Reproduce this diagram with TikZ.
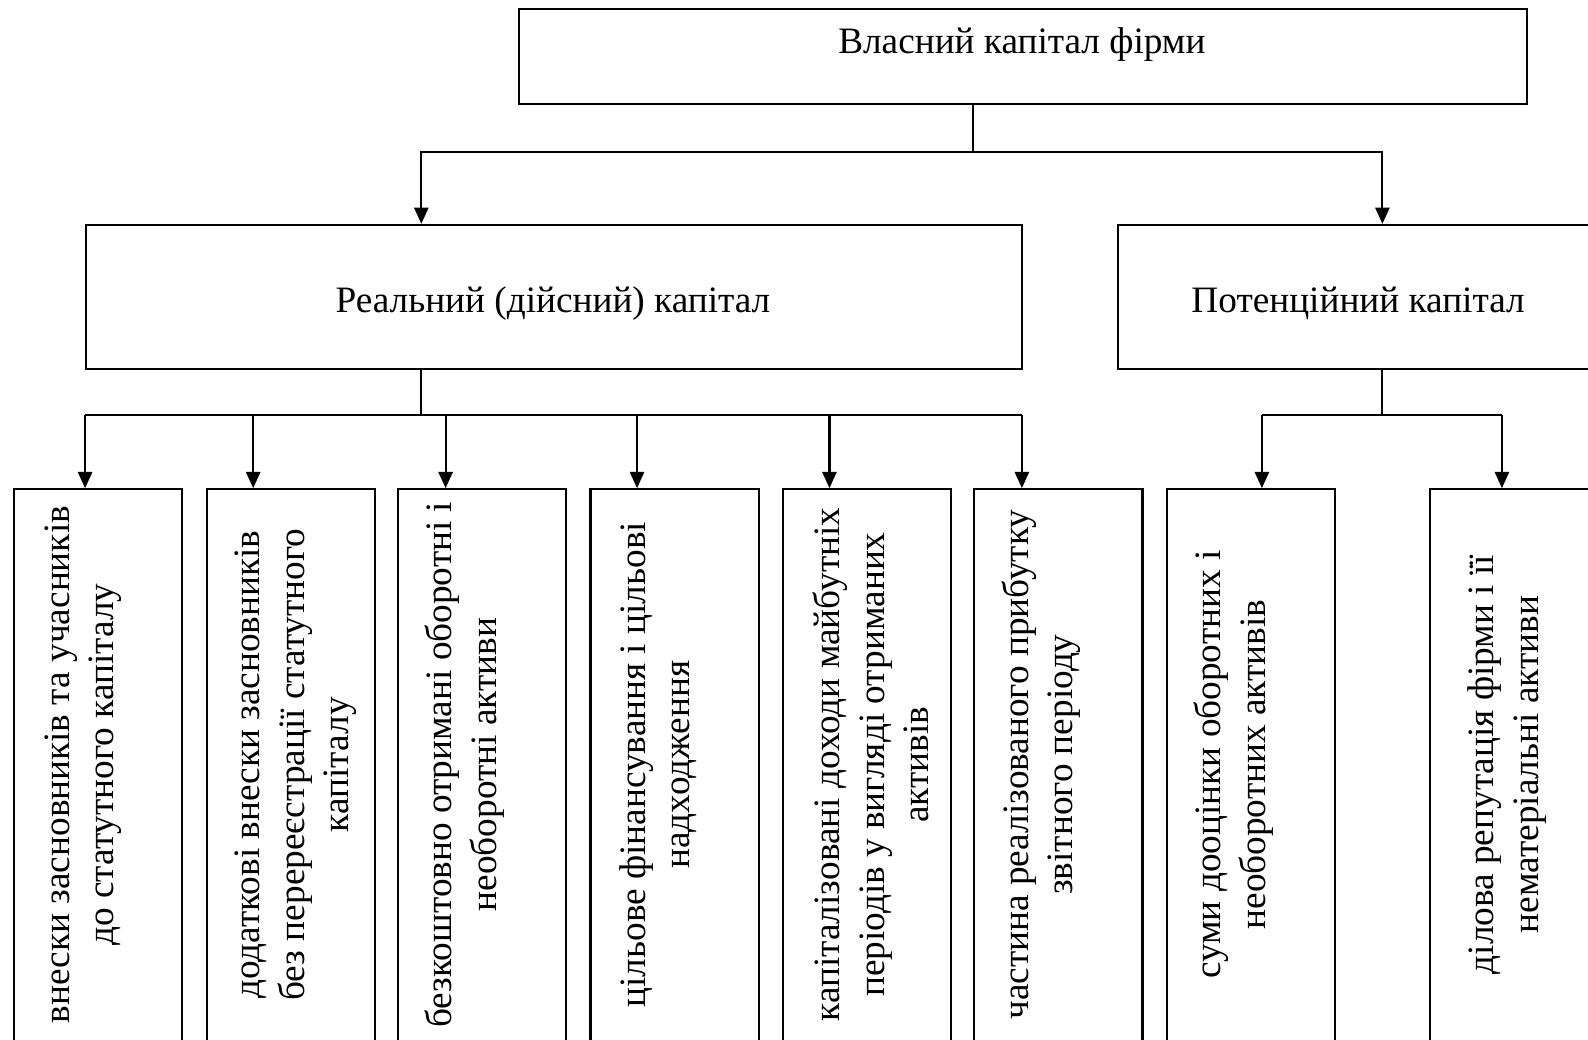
\documentclass[tikz,border=0pt]{standalone}
\usepackage{fontspec}
\setmainfont{Liberation Serif}
\usetikzlibrary{arrows.meta}
\begin{document}
\begin{tikzpicture}[x=0.5pt,y=-0.5pt,
  every node/.style={font=\fontsize{18.4pt}{22pt}\selectfont},
  box/.style={draw, line width=1.05pt, inner sep=0pt, anchor=north west},
  lbl/.style={inner sep=0pt, align=center},
  vlbl/.style={inner sep=0pt, align=center, rotate=90},
  conn/.style={line width=1.05pt},
  arr/.style={line width=1.05pt, -{Triangle[length=8pt,width=7pt]}}]
\useasboundingbox (0,0) rectangle (1568,1026);
\clip (0,0) rectangle (1568,1026);
% level 0
\node[box, minimum width=498pt, minimum height=47pt] (top) at (511,8) {};
\node[lbl] (toptext) at (1009,44) {Власний капітал фірми};
% level 1
\node[box, minimum width=462pt, minimum height=71pt] (real) at (84,221) {};
\node[lbl] (realtext) at (546,300) {Реальний (дійсний) капітал};
\node[box, minimum width=238pt, minimum height=71pt] (pot) at (1103,221) {};
\node[lbl] (pottext) at (1341,300) {Потенційний капітал};
% level 2 boxes
\node[box, minimum width=83pt, minimum height=273pt] (b1) at (13,482) {};
\node[box, minimum width=83pt, minimum height=273pt] (b2) at (203,482) {};
\node[box, minimum width=83pt, minimum height=273pt] (b3) at (392,482) {};
\node[box, minimum width=83pt, minimum height=273pt] (b4) at (582,482) {};
\node[box, minimum width=83pt, minimum height=273pt] (b5) at (772,482) {};
\node[box, minimum width=83pt, minimum height=273pt] (b6) at (961,482) {};
\node[box, minimum width=83pt, minimum height=273pt] (b7) at (1151,482) {};
\node[box, minimum width=83pt, minimum height=273pt] (b8) at (1411,482) {};
\node[vlbl] (t1) at (82,755) {внески засновників та учасників\\до статутного капіталу};
\node[vlbl] (t2) at (292,755) {додаткові внески засновників\\без перереєстрації статутного\\капіталу};
\node[vlbl] (t3) at (459,755) {безкоштовно отримані оборотні і\\необоротні активи};
\node[vlbl] (t4) at (650,755) {цільове фінансування і цільові\\надходження};
\node[vlbl] (t5) at (860,755) {капіталізовані доходи майбутніх\\періодів у вигляді отриманих\\активів};
\node[vlbl] (t6) at (1028,755) {частина реалізованого прибутку\\звітного періоду};
\node[vlbl] (t7) at (1218,755) {суми дооцінки оборотних і\\необоротних активів};
\node[vlbl] (t8) at (1488,755) {ділова репутація фірми і її\\нематеріальні активи};
% connectors level 0 -> 1
\coordinate (j0) at (961,150);
\coordinate (a1) at (416,150);
\coordinate (a2) at (1365,150);
\draw[conn] (top.south -| j0) -- (j0);
\draw[arr] (j0) -| (real.north -| a1);
\draw[arr] (j0) -| (pot.north -| a2);
% connectors real -> boxes
\coordinate (j1) at (416,410);
\coordinate (c1) at (84,410);
\coordinate (c2) at (250,410);
\coordinate (c3) at (440,410);
\coordinate (c4) at (629,410);
\coordinate (c5) at (819,410);
\coordinate (c6) at (1009,410);
\draw[conn] (real.south -| j1) -- (j1);
\draw[conn] (c1) -- (c6);
\draw[arr] (c1) -- (b1.north -| c1);
\draw[arr] (c2) -- (b2.north -| c2);
\draw[arr] (c3) -- (b3.north -| c3);
\draw[arr] (c4) -- (b4.north -| c4);
\draw[arr] (c5) -- (b5.north -| c5);
\draw[arr] (c6) -- (b6.north -| c6);
% connectors potential -> boxes
\coordinate (j2) at (1365,410);
\coordinate (c7) at (1246,410);
\coordinate (c8) at (1483,410);
\draw[conn] (pot.south -| j2) -- (j2);
\draw[conn] (c7) -- (c8);
\draw[arr] (c7) -- (b7.north -| c7);
\draw[arr] (c8) -- (b8.north -| c8);
\end{tikzpicture}
\end{document}
